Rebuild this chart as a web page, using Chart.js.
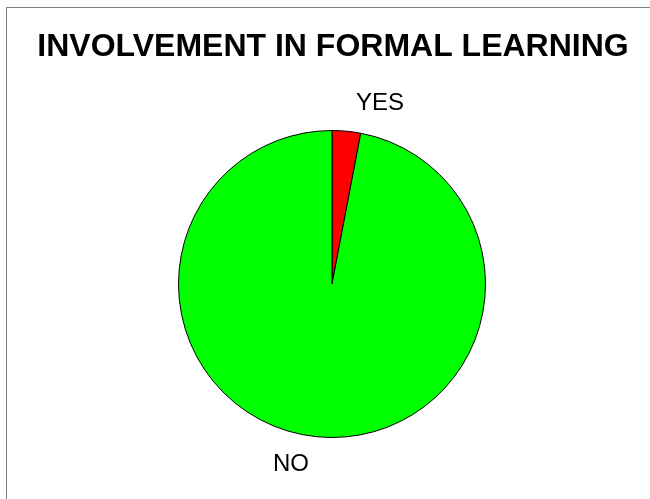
<!DOCTYPE html>
<html>
<head>
<meta charset="utf-8">
<script src="https://cdn.jsdelivr.net/npm/chart.js@4"></script>
<style>
html,body{margin:0;padding:0;background:#fff}
#wrap{position:relative;width:650px;height:499px;overflow:hidden}
#frame{position:absolute;left:6px;top:7px;width:700px;height:600px;border-left:1px solid #808080;border-top:1px solid #808080}
canvas{position:absolute;left:0;top:0}
</style>
</head>
<body>
<div id="wrap">
  <div id="frame"></div>
  <canvas id="c" width="650" height="499"></canvas>
</div>
<script>
const title='INVOLVEMENT IN FORMAL LEARNING';
const labels=['YES','NO'];
const values=[3,97];
const colors=['#FF0000','#00FF00'];

// labels outside the pie, next to each slice's middle angle
const outLabels={
  id:'outLabels',
  afterDraw(chart){
    const ctx=chart.ctx;
    ctx.save();
    ctx.fillStyle='#000';
    ctx.font='bold 32px "Liberation Sans", Arial, sans-serif';
    ctx.textAlign='center';
    ctx.textBaseline='middle';
    ctx.fillText(title,333,47);
    ctx.font='24px "Liberation Sans", Arial, sans-serif';
    chart.getDatasetMeta(0).data.forEach((arc,i)=>{
      const mid=(arc.startAngle+arc.endAngle)/2;
      const r=arc.outerRadius+28;
      const x=arc.x+Math.cos(mid)*r, y=arc.y+Math.sin(mid)*r;
      const right=Math.cos(mid)>=0;
      ctx.textAlign=right?'left':'right';
      ctx.fillText(chart.data.labels[i],x+(right?7:-6),y);
    });
    ctx.restore();
  }
};

new Chart(document.getElementById('c'),{
  type:'pie',
  data:{labels:labels,datasets:[{data:values,backgroundColor:colors,borderColor:'#000',borderWidth:1}]},
  options:{
    responsive:false,animation:false,
    layout:{padding:{top:130,bottom:61,left:100,right:86}},
    plugins:{legend:{display:false},title:{display:false},tooltip:{enabled:false}}
  },
  plugins:[outLabels]
});
</script>
</body>
</html>
